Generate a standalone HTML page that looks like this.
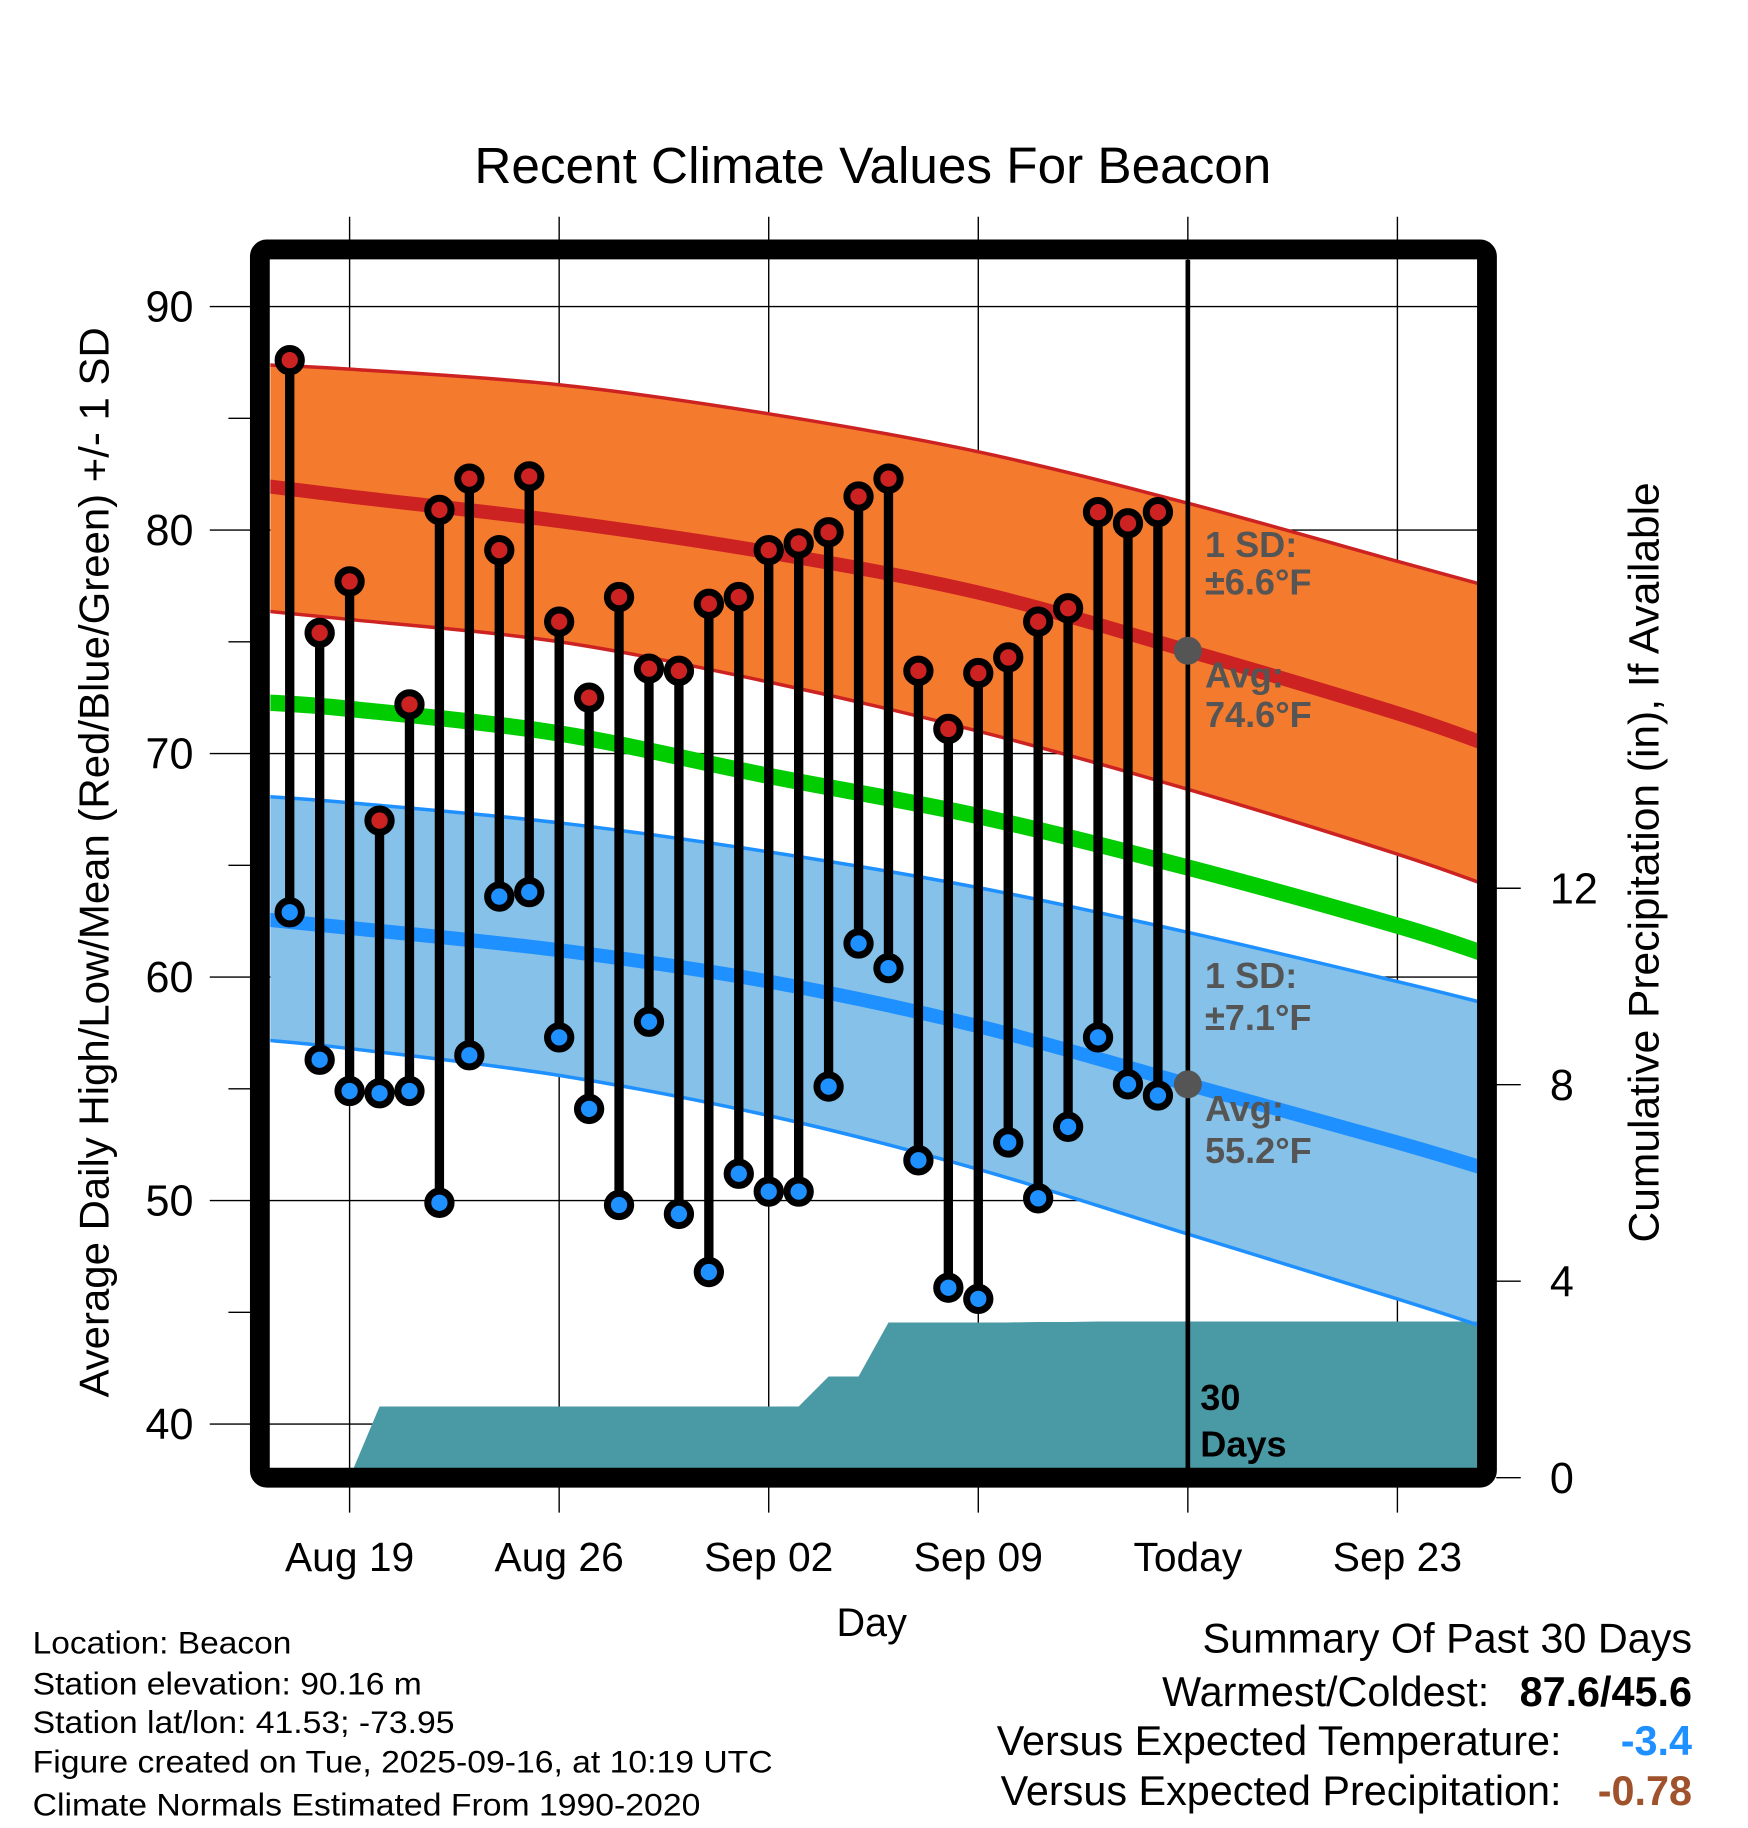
<!DOCTYPE html>
<html><head><meta charset="utf-8"><style>
html,body{margin:0;padding:0;background:#fff}
svg{display:block}
text{font-family:"Liberation Sans",sans-serif}
</style></head><body>
<svg id="chart" width="1748" height="1828" viewBox="0 0 1500 1568.6" xmlns="http://www.w3.org/2000/svg">
<rect x="0" y="0" width="1500" height="1569" fill="#fff"/>
<text x="749" y="157" font-size="44" text-anchor="middle">Recent Climate Values For Beacon</text>
<text transform="translate(93,740) rotate(-90)" font-size="36" text-anchor="middle">Average Daily High/Low/Mean (Red/Blue/Green) +/- 1 SD</text>
<text transform="translate(1423,740) rotate(-90)" font-size="36.5" text-anchor="middle">Cumulative Precipitation (in), If Available</text>
<text x="748" y="1404" font-size="34" text-anchor="middle">Day</text>
<g id="grid"></g>
<g id="plot"></g>
<g id="axes"></g>
<g font-size="27">
<text x="28" y="1419" textLength="222" lengthAdjust="spacingAndGlyphs">Location: Beacon</text>
<text x="28" y="1454" textLength="334" lengthAdjust="spacingAndGlyphs">Station elevation: 90.16 m</text>
<text x="28" y="1487" textLength="362" lengthAdjust="spacingAndGlyphs">Station lat/lon: 41.53; -73.95</text>
<text x="28" y="1521" textLength="635" lengthAdjust="spacingAndGlyphs">Figure created on Tue, 2025-09-16, at 10:19 UTC</text>
<text x="28" y="1558" textLength="573" lengthAdjust="spacingAndGlyphs">Climate Normals Estimated From 1990-2020</text>
</g>
<g font-size="35.5" text-anchor="end">
<text x="1452" y="1418">Summary Of Past 30 Days</text>
<text x="1278" y="1464">Warmest/Coldest:</text>
<text x="1452" y="1464" font-weight="bold">87.6/45.6</text>
<text x="1340" y="1506">Versus Expected Temperature:</text>
<text x="1452" y="1506" font-weight="bold" fill="#1e90ff">-3.4</text>
<text x="1340" y="1549">Versus Expected Precipitation:</text>
<text x="1452" y="1549" font-weight="bold" fill="#a0522d">-0.78</text>
</g>
</svg>
<script>
// ---- data ----
const days = ["Aug 17","Aug 18","Aug 19","Aug 20","Aug 21","Aug 22","Aug 23","Aug 24","Aug 25","Aug 26","Aug 27","Aug 28","Aug 29","Aug 30","Aug 31","Sep 01","Sep 02","Sep 03","Sep 04","Sep 05","Sep 06","Sep 07","Sep 08","Sep 09","Sep 10","Sep 11","Sep 12","Sep 13","Sep 14","Sep 15"];
const highs = [87.6,75.4,77.7,67.0,72.2,80.9,82.3,79.1,82.4,75.9,72.5,77.0,73.8,73.7,76.7,77.0,79.1,79.4,79.9,81.5,82.3,73.7,71.1,73.6,74.3,75.9,76.5,80.8,80.3,80.8];
const lows = [62.9,56.3,54.9,54.8,54.9,49.9,56.5,63.6,63.8,57.3,54.1,49.8,58.0,49.4,46.8,51.2,50.4,50.4,55.1,61.5,60.4,51.8,46.1,45.6,52.6,50.1,53.3,57.3,55.2,54.7];
const precipCum = [0,0,0,1.45,1.45,1.45,1.45,1.45,1.45,1.45,1.45,1.45,1.45,1.45,1.45,1.45,1.45,1.45,2.06,2.06,3.16,3.16,3.16,3.16,3.16,3.17,3.17,3.18,3.18,3.18];
// normals nodes (day offset from Aug 19)
const normDays = [-3,0,7,14,21,28,35,38];
const highMean = [82.0,81.5,80.4,79.0,77.2,74.6,71.8,70.4];
const highUpper = [87.4,87.2,86.5,85.2,83.5,81.2,78.6,77.5];
const highLower = [76.4,76.0,75.0,73.2,71.0,68.4,65.5,64.1];
const avgMean = [72.3,72.0,70.9,69.0,67.2,64.9,62.3,61.0];
const lowMean = [62.6,62.2,61.2,59.8,57.8,55.2,52.6,51.4];
const lowUpper = [68.1,67.8,66.9,65.6,64.0,62.0,59.8,58.8];
const lowLower = [57.2,56.8,55.6,53.8,51.4,48.5,45.6,44.3];
const yTicks = [40,50,60,70,80,90];
const yMinor = [45,55,65,75,85];
const y2Ticks = [0,4,8,12];
const xTickDays = [0,7,14,21,28,35];
const xTickLabels = ["Aug 19","Aug 26","Sep 02","Sep 09","Today","Sep 23"];
const firstDay = -2; // Aug 17
const todayHighAvg = 74.6, todayLowAvg = 55.2;

// ---- scales ----
const L=232,R=1268,T=223,B=1260;
const xs = d => 300 + d*25.69;
const ys = v => 263 + (90 - v)*19.18;
const yp = p => 1268 - p*42.15;
const NS='http://www.w3.org/2000/svg';
function mk(parent, tag, attrs){const e=document.createElementNS(NS,tag);for(const k in attrs)e.setAttribute(k,attrs[k]);parent.appendChild(e);return e;}
function pts(arr){return normDays.map((d,i)=>[xs(d),ys(arr[i])]);}
function smooth(p){let s='M'+p[0][0]+','+p[0][1];for(let i=0;i<p.length-1;i++){const p0=p[i-1]||p[i],p1=p[i],p2=p[i+1],p3=p[i+2]||p2;
 s+=` C${p1[0]+(p2[0]-p0[0])/6},${p1[1]+(p2[1]-p0[1])/6} ${p2[0]-(p3[0]-p1[0])/6},${p2[1]-(p3[1]-p1[1])/6} ${p2[0]},${p2[1]}`;}return s;}
function smoothRev(p){return smooth(p.slice().reverse()).replace('M','L');}

const svg=document.getElementById('chart');
const defs=mk(svg,'defs',{});
const cp=mk(defs,'clipPath',{id:'clip'});mk(cp,'rect',{x:L,y:T,width:R-L,height:B-T});
const grid=document.getElementById('grid');
const plot=document.getElementById('plot');plot.setAttribute('clip-path','url(#clip)');
const axes=document.getElementById('axes');

let e;
e=mk(plot,'path',{d:smooth(pts(highUpper))+smoothRev(pts(highLower))+'Z',fill:'#f47a2e'});


e=mk(plot,'path',{d:smooth(pts(lowUpper))+smoothRev(pts(lowLower))+'Z',fill:'#85c1e8'});


let pd='M'+xs(firstDay)+','+yp(0);
precipCum.forEach((p,i)=>{pd+=' L'+xs(firstDay+i)+','+yp(p);});
pd+=' L'+(R+5)+','+yp(precipCum[precipCum.length-1])+' L'+(R+5)+','+(B+10)+' L'+xs(firstDay)+','+(B+10)+'Z';
e=mk(plot,'path',{d:pd,fill:'#4a9aa5'});


yTicks.forEach(v=>{e=mk(grid,'line',{x1:180,x2:R,y1:ys(v),y2:ys(v),stroke:'#000','stroke-width':1.2});
 
 });
yMinor.forEach(v=>{e=mk(grid,'line',{x1:196,x2:216,y1:ys(v),y2:ys(v),stroke:'#000','stroke-width':1.2});
 
 });
xTickDays.forEach(d=>{e=mk(grid,'line',{x1:xs(d),x2:xs(d),y1:186,y2:1298,stroke:'#000','stroke-width':1.2});
 
 });
[[highUpper,'#cc2222',3,'high-upper-edge'],[highLower,'#cc2222',3,'high-lower-edge'],[lowUpper,'#1e90ff',3,'low-upper-edge'],[lowLower,'#1e90ff',3,'low-lower-edge'],[highMean,'#cc2222',12,'high-mean-line'],[avgMean,'#00cc00',14,'avg-mean-line'],[lowMean,'#1e90ff',12,'low-mean-line']].forEach(a=>{
 e=mk(plot,'path',{d:smooth(pts(a[0])),fill:'none',stroke:a[1],'stroke-width':a[2]});
 
 });
e=mk(svg,'line',{x1:xs(28),x2:xs(28),y1:T,y2:B,stroke:'#000','stroke-width':4});


highs.forEach((h,i)=>{const x=xs(firstDay+i);
 e=mk(svg,'line',{x1:x,x2:x,y1:ys(h),y2:ys(lows[i]),stroke:'#000','stroke-width':8});
 
 
 e=mk(svg,'circle',{cx:x,cy:ys(h),r:10,fill:'#cc2222',stroke:'#000','stroke-width':6});
 
 
 e=mk(svg,'circle',{cx:x,cy:ys(lows[i]),r:10,fill:'#1e90ff',stroke:'#000','stroke-width':6});
 
 });
e=mk(svg,'circle',{cx:xs(28),cy:ys(todayHighAvg),r:12,fill:'#555'});


e=mk(svg,'circle',{cx:xs(28),cy:ys(todayLowAvg),r:12,fill:'#555'});


[['1 SD:',478,'high-sd-label'],['±6.6°F',510,'high-sd-value'],['Avg:',590,'high-avg-label'],['74.6°F',624,'high-avg-value'],['1 SD:',848,'low-sd-label'],['±7.1°F',884,'low-sd-value'],['Avg:',962,'low-avg-label'],['55.2°F',998,'low-avg-value']].forEach(a=>{
 e=mk(svg,'text',{x:1034,y:a[1],'font-size':31,'font-weight':'bold',fill:'#555'});e.textContent=a[0];
 
 });
e=mk(svg,'text',{x:1030,y:1210,'font-size':31,'font-weight':'bold'});e.textContent='30';


e=mk(svg,'text',{x:1030,y:1250,'font-size':31,'font-weight':'bold'});e.textContent='Days';


e=mk(svg,'rect',{x:223,y:214,width:1053,height:1054,fill:'none',stroke:'#000','stroke-width':17,rx:6});


yTicks.forEach(v=>{e=mk(axes,'text',{x:166,y:ys(v)+13,'font-size':37,'text-anchor':'end'});e.textContent=v;
 
 });
y2Ticks.forEach(v=>{const l=mk(axes,'line',{x1:1284,x2:1305,y1:yp(v),y2:yp(v),stroke:'#000','stroke-width':1.2});
 
 
 e=mk(axes,'text',{x:1330,y:yp(v)+13,'font-size':37});e.textContent=v;
 
 });
xTickDays.forEach((d,i)=>{e=mk(axes,'text',{x:xs(d),y:1348,'font-size':35,'text-anchor':'middle'});e.textContent=xTickLabels[i];
 
 });
</script>
</body></html>
